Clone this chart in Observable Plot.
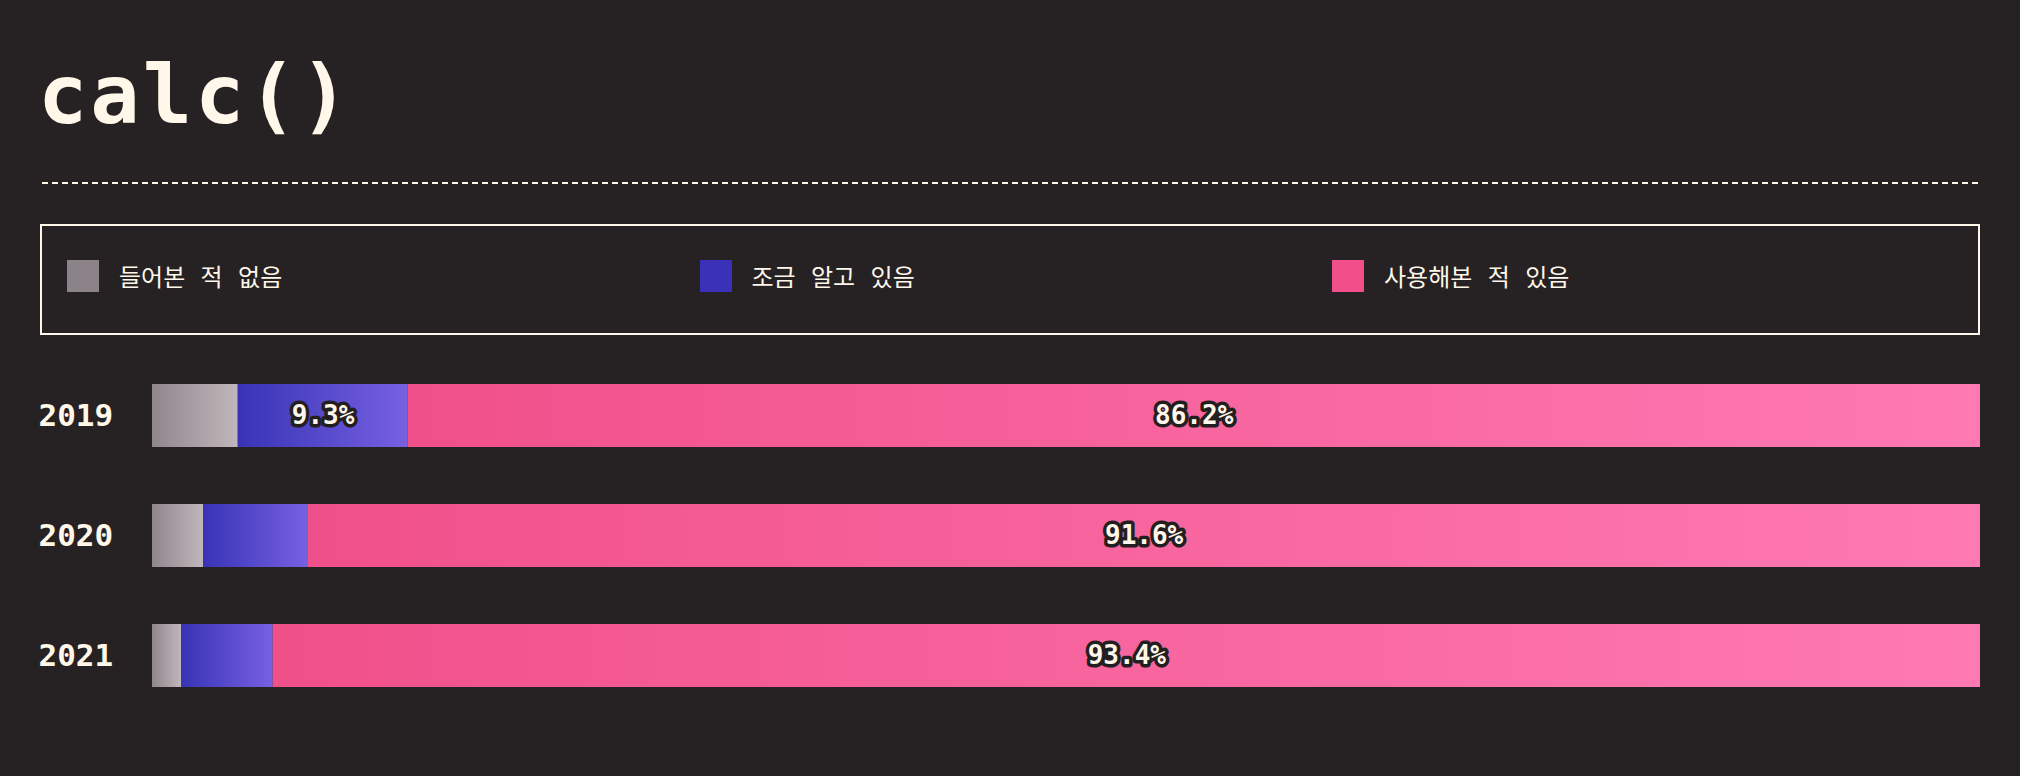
<!DOCTYPE html>
<html>
<head>
<meta charset="utf-8">
<script src="https://cdn.jsdelivr.net/npm/d3@7"></script>
<script src="https://cdn.jsdelivr.net/npm/@observablehq/plot@0.6"></script>
<style>
  html, body { margin: 0; padding: 0; background: #262223; overflow: hidden; }
  #page { position: relative; width: 2020px; height: 776px; }
  #title {
    position: absolute; left: 38px; top: 54px;
    font: bold 82px/82px "DejaVu Sans Mono", monospace;
    letter-spacing: 3px; color: #fff7e9; margin: 0;
  }
  #rule {
    position: absolute; left: 42px; top: 182px; width: 1938px; height: 2px;
    background: repeating-linear-gradient(to right, #fff7e9 0 6px, transparent 6px 10px);
  }
  #legend {
    position: absolute; left: 40px; top: 224px; width: 1940px; height: 111px;
    box-sizing: border-box; border: 2px solid #fff7e9;
    display: flex; padding: 34px 0 0 25px;
  }
  .item { flex: 0 0 632.5px; display: flex; align-items: center; height: 32px; }
  .swatch { width: 32px; height: 32px; margin-right: 20px; }
  .label {
    font: 400 24px/32px "Noto Sans CJK KR", sans-serif; color: #fff7e9;
    word-spacing: 10px;
  }
  #chart { position: absolute; left: 0; top: 344px; }
</style>
</head>
<body>
<div id="page">
  <h1 id="title">calc()</h1>
  <div id="rule"></div>
  <div id="legend"></div>
  <div id="chart"></div>
</div>
<script>
const years = ["2019", "2020", "2021"];
const responses = ["들어본 적 없음", "조금 알고 있음", "사용해본 적 있음"];
const neverHeard = [4.7, 2.8, 1.6];
const knowALittle = [9.3, 5.7, 5.0];
const usedIt = [86.2, 91.6, 93.4];

const cream = "#fff7e9";
const keys = ["never", "little", "used"];
const swatchColors = ["#8c8389", "#3a31b8", "#f04f8a"];
const gradients = [
  ["#8f878c", "#bfb7ba"],
  ["#3833b6", "#7661e1"],
  ["#f0508a", "#ff79b3"],
];

// legend
const legend = document.getElementById("legend");
responses.forEach((r, i) => {
  const item = document.createElement("div");
  item.className = "item";
  item.innerHTML = `<div class="swatch" style="background:${swatchColors[i]}"></div><span class="label">${r}</span>`;
  legend.append(item);
});

const series = [neverHeard, knowALittle, usedIt];
const rows = years.flatMap((year, yi) =>
  series.map((values, si) => ({ year, key: keys[si], value: values[yi] }))
);

const chart = Plot.plot({
  width: 2020,
  height: 432,
  marginTop: 40,
  marginBottom: 89,
  marginLeft: 152,
  marginRight: 40,
  style: { background: "transparent", color: cream },
  x: { axis: null, domain: [0, 1] },
  y: { axis: null, domain: years, paddingInner: 0.475, paddingOuter: 0 },
  color: { type: "identity" },
  marks: [
    Plot.barX(rows, Plot.stackX({
      x: "value",
      y: "year",
      offset: "normalize",
      fill: (d) => `url(#grad-${d.key})`,
    })),
    Plot.textX(rows, Plot.stackX({
      x: "value",
      y: "year",
      offset: "normalize",
      text: (d) => (d.value >= 9 ? d.value.toFixed(1) + "%" : ""),
      fill: cream,
      stroke: "#231f20",
      strokeWidth: 7,
      strokeLinejoin: "round",
      paintOrder: "stroke",
      fontSize: 26,
      fontWeight: "bold",
      fontFamily: "DejaVu Sans Mono",
    })),
    Plot.text(years, {
      y: (d) => d,
      text: (d) => d,
      frameAnchor: "left",
      textAnchor: "start",
      dx: -114,
      fontSize: 31,
      fontWeight: "bold",
      fontFamily: "DejaVu Sans Mono",
      fill: cream,
    }),
  ],
});

const defs = d3.select(chart).insert("defs", ":first-child");
keys.forEach((k, i) => {
  const g = defs.append("linearGradient")
    .attr("id", `grad-${k}`)
    .attr("x1", 0).attr("x2", 1).attr("y1", 0).attr("y2", 0);
  g.append("stop").attr("offset", 0).attr("stop-color", gradients[i][0]);
  g.append("stop").attr("offset", 1).attr("stop-color", gradients[i][1]);
});

document.getElementById("chart").append(chart);
</script>
</body>
</html>
